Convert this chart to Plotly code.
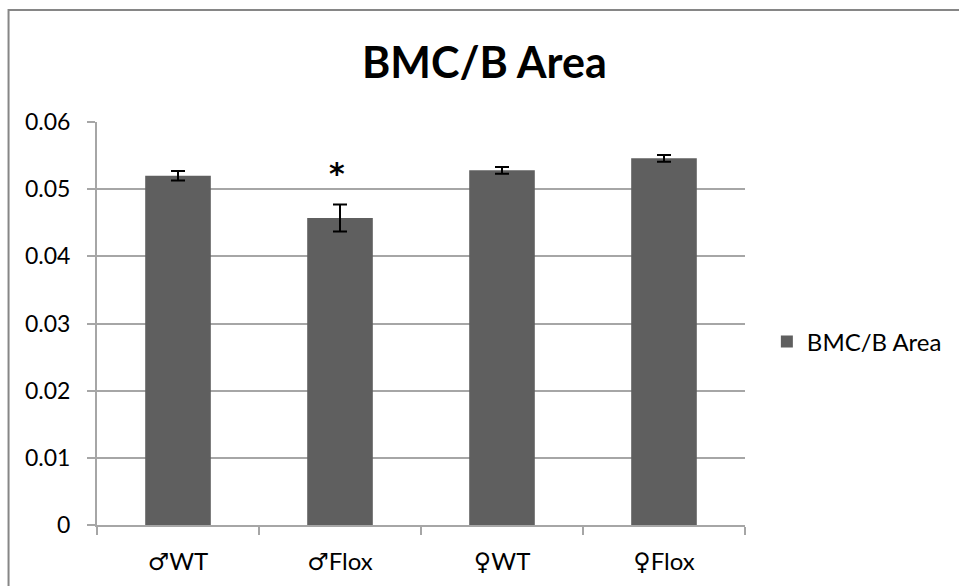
import plotly.graph_objects as go

categories = ["♂WT", "♂Flox", "♀WT", "♀Flox"]
values = [0.0520, 0.0457, 0.0528, 0.0546]
errors = [0.0007, 0.0020, 0.0005, 0.0005]
series_name = "BMC/B Area"
title_text = "BMC/B Area"
y_ticks = [0, 0.01, 0.02, 0.03, 0.04, 0.05, 0.06]
y_tick_labels = ["0", "0.01", "0.02", "0.03", "0.04", "0.05", "0.06"]
sig_category = "♂Flox"
sig_label = "*"
sig_y = 0.0523

FONT = "Lato, 'DejaVu Sans', sans-serif"
GRID = "#a6a6a6"
BAR = "#5f5f5f"

fig = go.Figure()
fig.add_trace(go.Bar(
    x=categories, y=values, name=series_name,
    marker=dict(color=BAR, line=dict(width=0)),
    width=0.405,
    error_y=dict(type="data", array=errors, visible=True,
                 color="black", thickness=2, width=7),
    showlegend=True,
))

L, R, T, B = 97, 210, 122, 61
W, H = 959, 586
pw = W - L - R
ph = H - T - B

def px_x(x):
    return (x - L) / pw

def px_y(y):
    return (H - B - y) / ph

fig.update_layout(
    width=W, height=H,
    margin=dict(l=L, r=R, t=T, b=B, pad=0),
    paper_bgcolor="white", plot_bgcolor="white",
    font=dict(family=FONT, size=23, color="black"),
    showlegend=True,
    legend=dict(x=px_x(771), y=px_y(342), xanchor="left", yanchor="middle",
                font=dict(family=FONT, size=24, color="black"),
                itemwidth=30, bgcolor="rgba(0,0,0,0)"),
    bargap=0.595,
    xaxis=dict(
        type="category", showline=True, linecolor=GRID, linewidth=2,
        ticks="outside", tickson="boundaries", ticklen=8, tickcolor=GRID, tickwidth=1.5,
        showgrid=False, tickfont=dict(family=FONT, size=24, color="black"),
        range=[-0.5, 3.5], ticklabelstandoff=14,
    ),
    yaxis=dict(
        range=[0, 0.06], tickvals=y_ticks, ticktext=y_tick_labels,
        showline=True, linecolor=GRID, linewidth=2,
        ticks="outside", ticklen=8, tickcolor=GRID, tickwidth=1.5,
        showgrid=True, gridcolor=GRID, gridwidth=2,
        zeroline=False, tickfont=dict(family=FONT, size=23, color="black"),
        ticklabelstandoff=12,
    ),
    shapes=[dict(type="rect", xref="paper", yref="paper",
                 x0=px_x(8), x1=px_x(975), y0=px_y(600), y1=px_y(10),
                 line=dict(color="#868686", width=2), fillcolor="rgba(0,0,0,0)", layer="below")],
    annotations=[
        dict(text="<b>" + title_text + "</b>", xref="paper", yref="paper",
             x=px_x(487), y=px_y(62), xanchor="center", yanchor="middle",
             showarrow=False, font=dict(family=FONT, size=43, color="black")),
        dict(text="<b>" + sig_label + "</b>", x=sig_category, y=sig_y, xref="x", yref="y",
             xshift=-3, showarrow=False,
             font=dict(family="'DejaVu Sans', sans-serif", size=30, color="black"),
             yanchor="middle"),
    ],
)

fig.write_html("out.html", config={"displayModeBar": False},
               post_script="document.body.style.margin='0';document.body.style.overflow='hidden';")
